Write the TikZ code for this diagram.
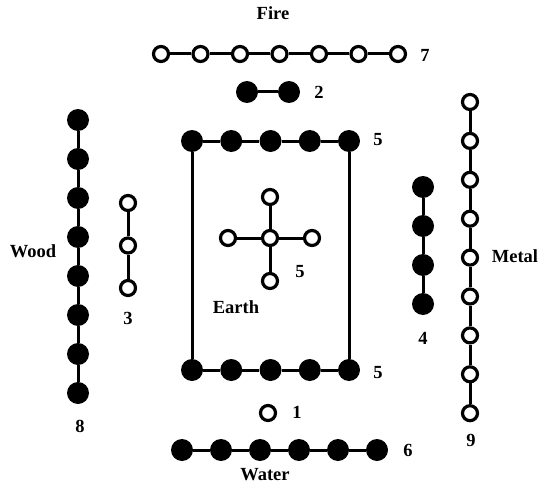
\documentclass[tikz,border=0pt]{standalone}
\usepackage{fontspec}
\setmainfont{Liberation Serif}
\usetikzlibrary{positioning}

\tikzset{
  blackdot/.style={circle, fill=black, inner sep=0pt, minimum size=22pt},
  whitedot/.style={circle, draw=black, fill=white, line width=3.2pt, inner sep=0pt, minimum size=15pt},
  link/.style={line width=3pt},
  lab/.style={font=\bfseries\fontsize{18.5}{20}\selectfont, inner sep=0pt}
}

\begin{document}
\begin{tikzpicture}[x=1pt, y=-1pt]
  \useasboundingbox (0,0) rectangle (541,495);

  % Fire: seven open dots on top, two black dots below.
  \foreach \i in {1,...,7}{\node[whitedot] (f\i) at ({121.5+39.5*\i},54) {};}
  \foreach \i [remember=\i as \p (initially 1)] in {2,...,7}{\draw[link] (f\p) -- (f\i);}
  \node[blackdot] (t1) at (247,92) {};
  \node[blackdot] (t2) at (289,92) {};
  \draw[link] (t1) -- (t2);

  % Water: one open dot, six black dots at the bottom.
  \node[whitedot] (w0) at (268,413) {};
  \foreach \i in {1,...,6}{\node[blackdot] (w\i) at ({143+39*\i},450) {};}
  \foreach \i [remember=\i as \p (initially 1)] in {2,...,6}{\draw[link] (w\p) -- (w\i);}

  % Wood: eight black dots, three open dots.
  \foreach \i in {1,...,8}{\node[blackdot] (d\i) at (78,{81+39*\i}) {};}
  \foreach \i [remember=\i as \p (initially 1)] in {2,...,8}{\draw[link] (d\p) -- (d\i);}
  \foreach \i in {1,2,3}{\node[whitedot] (s\i) at (128,{160.5+42.5*\i}) {};}
  \foreach \i [remember=\i as \p (initially 1)] in {2,3}{\draw[link] (s\p) -- (s\i);}

  % Metal: four black dots, nine open dots.
  \foreach \i in {1,...,4}{\node[blackdot] (m\i) at (423,{148+39*\i}) {};}
  \foreach \i [remember=\i as \p (initially 1)] in {2,...,4}{\draw[link] (m\p) -- (m\i);}
  \foreach \i in {1,...,9}{\node[whitedot] (n\i) at (470,{63.1+38.9*\i}) {};}
  \foreach \i [remember=\i as \p (initially 1)] in {2,...,9}{\draw[link] (n\p) -- (n\i);}

  % Earth: frame of ten black dots, cross of five open dots.
  \foreach \i in {1,...,5}{
    \node[blackdot] (a\i) at ({152.75+39.25*\i},141) {};
    \node[blackdot] (b\i) at ({152.75+39.25*\i},370) {};
  }
  \foreach \i [remember=\i as \p (initially 1)] in {2,...,5}{
    \draw[link] (a\p) -- (a\i);
    \draw[link] (b\p) -- (b\i);
  }
  \draw[link] (a1) -- (b1);
  \draw[link] (a5) -- (b5);
  \node[whitedot] (c0) at (270,238) {};
  \node[whitedot] (cu) at (270,197) {};
  \node[whitedot] (cd) at (270,281) {};
  \node[whitedot] (cl) at (228,238) {};
  \node[whitedot] (cr) at (312,238) {};
  \foreach \e in {cu,cd,cl,cr}{\draw[link] (c0) -- (\e);}

  % Labels.
  \node[lab] (fire)  at (273,13)  {Fire};
  \node[lab] (water) at (265,475) {Water};
  \node[lab] (wood)  at (33,251)  {Wood};
  \node[lab] (metal) at (515,256) {Metal};
  \node[lab] (earth) at (236,307) {Earth};
  \node[lab] (n7) at (425,55)  {7};
  \node[lab] (n2) at (319,92)  {2};
  \node[lab] (n5a) at (378,140) {5};
  \node[lab] (n5b) at (378,373) {5};
  \node[lab] (n5c) at (300,272) {5};
  \node[lab] (n3) at (128,318) {3};
  \node[lab] (n8) at (80,426)  {8};
  \node[lab] (n4) at (423,338) {4};
  \node[lab] (n9) at (471,440) {9};
  \node[lab] (n1) at (297,412) {1};
  \node[lab] (n6) at (408,450) {6};
\end{tikzpicture}
\end{document}
